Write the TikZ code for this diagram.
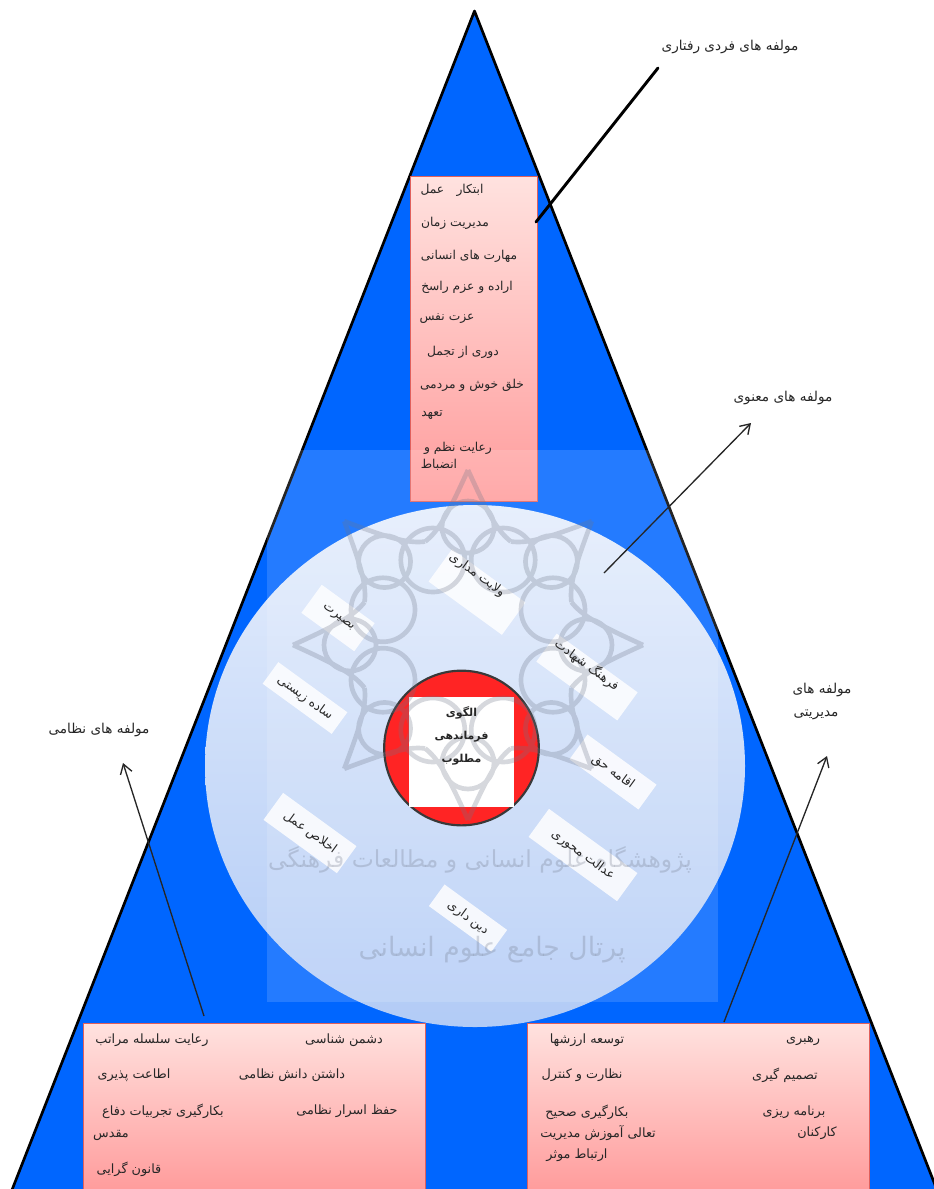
\documentclass[tikz,border=0pt]{standalone}
\usepackage{fontspec}
\usepackage{tikz}
\usepackage{xcolor}
\usetikzlibrary{arrows.meta}
\TeXXeTstate=1
\newfontfamily\farsi[Script=Arabic]{DejaVu Sans}
\newcommand{\fa}[1]{\beginR #1\endR}
\definecolor{pyramidblue}{HTML}{0066FF}
\definecolor{boxedge}{HTML}{E0605C}
\definecolor{logogrey}{HTML}{6E7688}
\definecolor{discup}{HTML}{E4EDFC}
\definecolor{discdown}{HTML}{B2CBF6}
\definecolor{corered}{HTML}{FF0000}
\definecolor{pinkup}{HTML}{FFE2DF}
\definecolor{pinkdown}{HTML}{FF9C9C}
\tikzset{
  pinkbox/.style={draw=boxedge,line width=0.7pt,top color=pinkup,bottom color=pinkdown},
  rimbox/.style={fill=white,opacity=0.85,rotate=-36,inner sep=0pt},
  lab/.style={font=\farsi\fontsize{9.6}{11}\selectfont,text=black!85,inner sep=0pt},
  toplab/.style={lab,font=\farsi\fontsize{9.2}{11}\selectfont},
  headlab/.style={lab,font=\farsi\fontsize{10.2}{12}\selectfont},
  rimlab/.style={lab,font=\farsi\fontsize{9.4}{11}\selectfont,rotate=-36},
  pointer/.style={draw=black!85,line width=1pt,-{Straight Barb[length=7pt,width=9pt]}},
  logoline/.style={draw=logogrey,line width=3.5pt}
}
\begin{document}
\begin{tikzpicture}[x=0.75pt,y=-0.75pt]
\useasboundingbox (0,0) rectangle (933,1189);
\coordinate (apex) at (474.5,11);
\coordinate (baseleft) at (10,1195);
\coordinate (baseright) at (939,1195);
\draw[fill=pyramidblue,line width=2pt,line join=round] (apex) -- (baseright) -- (baseleft) -- cycle;
\shade[top color=discup,bottom color=discdown] (475,766) ellipse (270 and 261);
\node[pinkbox,minimum width=95.25pt,minimum height=243.75pt] (behaviourbox) at (473.5,338.5) {};
\node[pinkbox,minimum width=256.5pt,minimum height=125pt,anchor=north west] (militarybox) at (83,1023) {};
\node[pinkbox,minimum width=256.5pt,minimum height=125pt,anchor=north west] (managebox) at (527,1023) {};
\foreach \x/\y/\w/\h/\n in {477/592/68/30/rimvelayat,338/618/49/26/rimbasirat,587/677/75/26/rimshahadat,305/698/64/20/rimsadeh,613/772/64/23/rimeqameh,583/855/82/26/rimedalat,310/833/68/25/rimekhlas,468/918/58/20/rimdin}{
\node[rimbox,minimum width=\w pt,minimum height=\h pt] (\n) at (\x,\y) {};
}
\node[circle,draw=black!90,fill=corered,line width=1.6pt,minimum size=116pt,inner sep=0pt] (corecircle) at (461.5,748) {};
\node[fill=white,minimum width=78.75pt,minimum height=82.5pt,inner sep=0pt] (coresquare) at (461.5,752) {};
\fill[white,opacity=0.14] (267,450) rectangle (718,1002);
\begin{scope}[shift={(468,645)},transparency group,opacity=0.28]
\foreach \a in {0,45,...,315}{
\draw[logoline] (\a:175) .. controls (\a+8:135) and (\a+14:118) .. (\a+22.5:112);
\draw[logoline] (\a:175) .. controls (\a-8:135) and (\a-14:118) .. (\a-22.5:112);
\draw[logoline] (\a+22.5:92) circle (32);
\draw[logoline] (\a:118) circle (26);
}
\end{scope}
\node[lab,font=\farsi\fontsize{17.6}{21}\selectfont,text=logogrey,opacity=0.28] (watermarkone) at (480,860) {\fa{پژوهشگاه علوم انسانی و مطالعات فرهنگی}};
\node[lab,font=\farsi\fontsize{20}{24}\selectfont,text=logogrey,opacity=0.28] (watermarktwo) at (492,950) {\fa{پرتال جامع علوم انسانی}};
\foreach \y/\t/\x/\n in {190/ابتکار\quad عمل/452/lineone,223/مدیریت زمان/455/linetwo,256/مهارت های انسانی/469/linethree,287/اراده و عزم راسخ/467/linefour,319/عزت نفس/447/linefive,352/دوری از تجمل/463/linesix,385/خلق خوش و مردمی/472/lineseven,415/تعهد/432/lineeight,448/رعایت نظم و/458/linenine,465/انضباط/439/lineten}{
\node[toplab] (\n) at (\x,\y) {\fa{\t}};
}
\foreach \x/\y/\t/\n in {344/1040/دشمن شناسی/milone,152/1040/رعایت سلسله مراتب/miltwo,292/1075/داشتن دانش نظامی/milthree,134/1075/اطاعت پذیری/milfour,347/1111/حفظ اسرار نظامی/milfive,163/1111/بکارگیری تجربیات دفاع/milsix,111/1135/مقدس/milseven,129/1169/قانون گرایی/mileight}{
\node[lab] (\n) at (\x,\y) {\fa{\t}};
}
\foreach \x/\y/\t/\n in {803/1041/رهبری/manone,587/1040/توسعه ارزشها/mantwo,785/1075/تصمیم گیری/manthree,582/1075/نظارت و کنترل/manfour,794/1112/برنامه ریزی/manfive,587/1112/بکارگیری صحیح/mansix,817/1133/کارکنان/manseven,598/1133/تعالی آموزش مدیریت/maneight,577/1155/ارتباط موثر/mannine}{
\node[lab] (\n) at (\x,\y) {\fa{\t}};
}
\foreach \x/\y/\t/\n in {477/575/ولایت مداری/txtvelayat,338/618/بصیرت/txtbasirat,587/665/فرهنگ شهادت/txtshahadat,305/698/ساده زیستی/txtsadeh,613/772/اقامه حق/txteqameh,583/855/عدالت محوری/txtedalat,310/833/اخلاص عمل/txtekhlas,468/918/دین داری/txtdin}{
\node[rimlab] (\n) at (\x,\y) {\fa{\t}};
}
\foreach \y/\t/\n in {713/الگوی/coreone,737/فرماندهی/coretwo,760/مطلوب/corethree}{
\node[lab,font=\farsi\bfseries\fontsize{8.2}{10}\selectfont] (\n) at (461.5,\y) {\fa{\t}};
}
\node[headlab] (headbehaviour) at (730,47) {\fa{مولفه های فردی رفتاری}};
\node[headlab] (headcontent) at (783,398) {\fa{مولفه های معنوی}};
\node[headlab] (headmanageone) at (822,690) {\fa{مولفه های}};
\node[headlab] (headmanagetwo) at (816,715) {\fa{مدیریتی}};
\node[headlab] (headmilitary) at (99,730) {\fa{مولفه های نظامی}};
\coordinate (behaviourtop) at (658,68);
\coordinate (behaviourend) at (536,222);
\coordinate (contentfoot) at (604,573);
\coordinate (contenttip) at (751,423);
\coordinate (managefoot) at (724,1022);
\coordinate (managetip) at (827,756);
\coordinate (militaryfoot) at (204,1016);
\coordinate (militarytip) at (123,763);
\draw[line width=2.2pt,line cap=round] (behaviourtop) -- (behaviourend);
\draw[pointer] (contentfoot) -- (contenttip);
\draw[pointer] (managefoot) -- (managetip);
\draw[pointer] (militaryfoot) -- (militarytip);
\end{tikzpicture}
\end{document}
